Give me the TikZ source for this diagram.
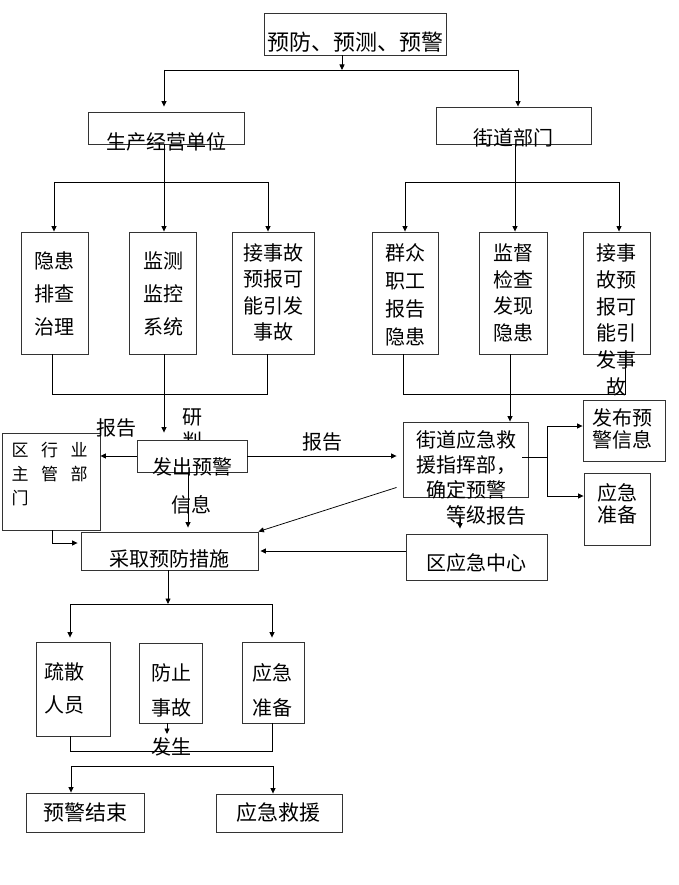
\documentclass[tikz,border=0pt]{standalone}
\usepackage{fontspec}
\setmainfont{Noto Sans CJK SC}
\usetikzlibrary{arrows.meta,calc}
\begin{document}
\begin{tikzpicture}[x=1pt,y=-1pt,
  bx/.style 2 args={draw=black!80, line width=0.9pt, fill=white, inner sep=0pt, minimum width=#1pt, minimum height=#2pt},
  tx/.style={inner sep=0pt, align=center, font=\fontsize{20}{26}\selectfont},
  ln/.style={line width=0.75pt},
  arr/.style={ln, -{Triangle[length=5.5pt,width=5pt]}}]
\useasboundingbox (0,0) rectangle (678,885);

% label partly hidden by the box drawn over it
\node[tx, font=\fontsize{20}{24}\selectfont] (yanpan) at (192,430) {研\\判};

% boxes
\node[bx={182}{42}] (top) at (355,34) {};
\node[bx={156}{32}] (prod) at (166,128) {};
\node[bx={155}{37}] (street) at (513.5,125.5) {};
\node[bx={67}{122}] (b1) at (54.5,293) {};
\node[bx={67}{122}] (b2) at (162.5,293) {};
\node[bx={82}{122}] (b3) at (273,293) {};
\node[bx={66}{122}] (b4) at (405,293) {};
\node[bx={68}{122}] (b5) at (513,293) {};
\node[bx={67}{122}] (b6) at (616.5,293) {};
\node[bx={110}{32}] (warn) at (192,456) {};
\node[bx={98}{97}] (dept) at (51,481.5) {};
\node[bx={177}{38}] (meas) at (169.5,551) {};
\node[bx={125}{75}] (cmd) at (465.5,459.5) {};
\node[bx={141}{46}] (ctr) at (476.5,557) {};
\node[bx={82}{61}] (pub) at (624,430.5) {};
\node[bx={66}{72}] (prepA) at (617,509) {};
\node[bx={74}{94}] (evac) at (73,689) {};
\node[bx={63}{80}] (prev) at (170.5,683) {};
\node[bx={62}{81}] (prepB) at (273,682.5) {};
\node[bx={118}{39}] (fin) at (85,812.5) {};
\node[bx={126}{38}] (resc) at (279,813) {};

% box texts
\node[tx, font=\fontsize{22}{26}\selectfont] (ttop) at (355,42) {预防、预测、预警};
\node[tx] (tprod) at (166,142) {生产经营单位};
\node[tx] (tstreet) at (513,138) {街道部门};
\node[tx, font=\fontsize{20}{33}\selectfont] (tb1) at (54.5,294) {隐患\\排查\\治理};
\node[tx, font=\fontsize{20}{33}\selectfont] (tb2) at (163,294) {监测\\监控\\系统};
\node[tx, font=\fontsize{20}{26.5}\selectfont] (tb3) at (273,292.5) {接事故\\预报可\\能引发\\事故};
\node[tx, font=\fontsize{20}{28}\selectfont] (tb4) at (405,295) {群众\\职工\\报告\\隐患};
\node[tx, font=\fontsize{20}{26.7}\selectfont] (tb5) at (513,293) {监督\\检查\\发现\\隐患};
\node[tx, font=\fontsize{20}{26.8}\selectfont] (tb6) at (616.5,320) {接事\\故预\\报可\\能引\\发事\\故};
\node[tx] (twarn) at (192,467) {发出预警};
\node[tx, font=\fontsize{17}{24}\selectfont, align=left, anchor=west] (tdept) at (11.5,474) {区\hspace{12.5pt}行\hspace{12.5pt}业\\主\hspace{12.5pt}管\hspace{12.5pt}部\\门};
\node[tx] (tmeas) at (169,559) {采取预防措施};
\node[tx, font=\fontsize{20}{25}\selectfont] (tcmd) at (466,477.5) {街道应急救\\援指挥部，\\确定预警\\等级};
\node[tx] (tctr) at (476,563) {区应急中心};
\node[tx, font=\fontsize{20}{22}\selectfont] (tpub) at (622,429) {发布预\\警信息};
\node[tx, font=\fontsize{20}{22}\selectfont] (tprepA) at (617,504) {应急\\准备};
\node[tx, font=\fontsize{20}{33}\selectfont] (tevac) at (64,688.5) {疏散\\人员};
\node[tx, font=\fontsize{20}{35}\selectfont] (tprev) at (171,690.5) {防止\\事故};
\node[tx, font=\fontsize{20}{35}\selectfont] (tprepB) at (272,690.5) {应急\\准备};
\node[tx, font=\fontsize{21}{26}\selectfont] (tfin) at (85,812) {预警结束};
\node[tx, font=\fontsize{21}{26}\selectfont] (tresc) at (278,812) {应急救援};

% connectors: top level
\coordinate (j0) at (342,70);
\coordinate (jl) at (164,70);
\coordinate (jr) at (518,70);
\draw[arr] (top.south -| j0) -- (j0);
\draw[ln] (jl) -- (jr);
\draw[arr, shorten >=5pt] (jl) -- (jl |- prod.north);
\draw[arr] (jr) -- (jr |- street.north);

% second level
\coordinate (k1) at (54,182);
\coordinate (k2) at (164,182);
\coordinate (k3) at (268,182);
\draw[arr] (prod.south -| k2) -- (k2 |- b2.north);
\draw[ln] (k1) -- (k3);
\draw[arr] (k1) -- (k1 |- b1.north);
\draw[arr] (k3) -- (k3 |- b3.north);

\coordinate (m1) at (405,182);
\coordinate (m2) at (515,182);
\coordinate (m3) at (619,182);
\draw[ln] (street.south -| m2) -- (m2);
\draw[ln] (m1) -- (m3);
\draw[arr] (m1) -- (m1 |- b4.north);
\draw[arr] (m2) -- (m2 |- b5.north);
\draw[arr] (m3) -- (m3 |- b6.north);

% below the rows
\coordinate (n1) at (52,394);
\coordinate (n2) at (164,394);
\coordinate (n3) at (267,394);
\draw[ln] (b1.south -| n1) -- (n1) -- (n3) -- (b3.south -| n3);
\draw[arr, shorten >=7pt] (b2.south -| n2) -- (warn.north -| n2);

\coordinate (p1) at (403,394);
\coordinate (p2) at (510,394);
\coordinate (p3) at (625,394);
\draw[ln] (b4.south -| p1) -- (p1) -- (p3) -- (b6.south -| p3);
\draw[arr] (b5.south -| p2) -- (cmd.north -| p2);

% middle
\draw[arr] (warn.west) -- (warn.west -| dept.east);
\draw[arr, shorten >=6pt] (warn.east) -- (warn.east -| cmd.west);
\coordinate (q1) at (188,472);
\draw[arr, shorten >=4pt] (warn.south -| q1) -- (meas.north -| q1);
\coordinate (d1) at (52,543);
\draw[arr, shorten >=3pt] (dept.south -| d1) -- (d1) -- (d1 -| meas.west);
\draw[arr] ($(cmd.south west)+(-6,-10)$) -- (meas.north east);
\draw[arr, shorten >=2pt] (ctr.west |- meas.east) -- (meas.east);
\coordinate (s1) at (460,0);
\draw[arr, shorten <=22pt, shorten >=5pt] (cmd.south -| s1) -- (ctr.north -| s1);

\coordinate (r0) at (547,457);
\coordinate (r1) at (547,426);
\coordinate (r2) at (547,496);
\draw[ln] ($(cmd.east |- r0)+(-6,0)$) -- (r0);
\draw[ln] (r1) -- (r2);
\draw[arr] (r1) -- (r1 -| pub.west);
\draw[arr] (r2) -- (r2 -| prepA.west);

% lower part
\coordinate (t0) at (168,604);
\coordinate (t1) at (70,604);
\coordinate (t2) at (272,604);
\draw[arr] (meas.south -| t0) -- (t0);
\draw[ln] (t1) -- (t2);
\draw[arr, shorten >=4pt] (t1) -- (t1 |- evac.north);
\draw[arr, shorten >=4pt] (t2) -- (t2 |- prepB.north);

\coordinate (u0) at (167,734);
\draw[arr] (prev.south -| u0) -- (u0);
\coordinate (v1) at (70,751);
\coordinate (v2) at (272,751);
\draw[ln] (evac.south -| v1) -- (v1) -- (v2) -- (prepB.south -| v2);
\coordinate (w1) at (71,766);
\coordinate (w2) at (273,766);
\draw[ln] (w1) -- (w2);
\draw[arr] (w1) -- (w1 |- fin.north);
\draw[arr] (w2) -- (w2 |- resc.north);

% connector labels
\node[tx] (lrep1) at (116,428) {报告};
\node[tx] (lrep2) at (322,442) {报告};
\node[tx] (linfo) at (191,505) {信息};
\node[tx] (lrep3) at (506,516) {报告};
\node[tx] (lhap) at (171,747) {发生};
\end{tikzpicture}
\end{document}
